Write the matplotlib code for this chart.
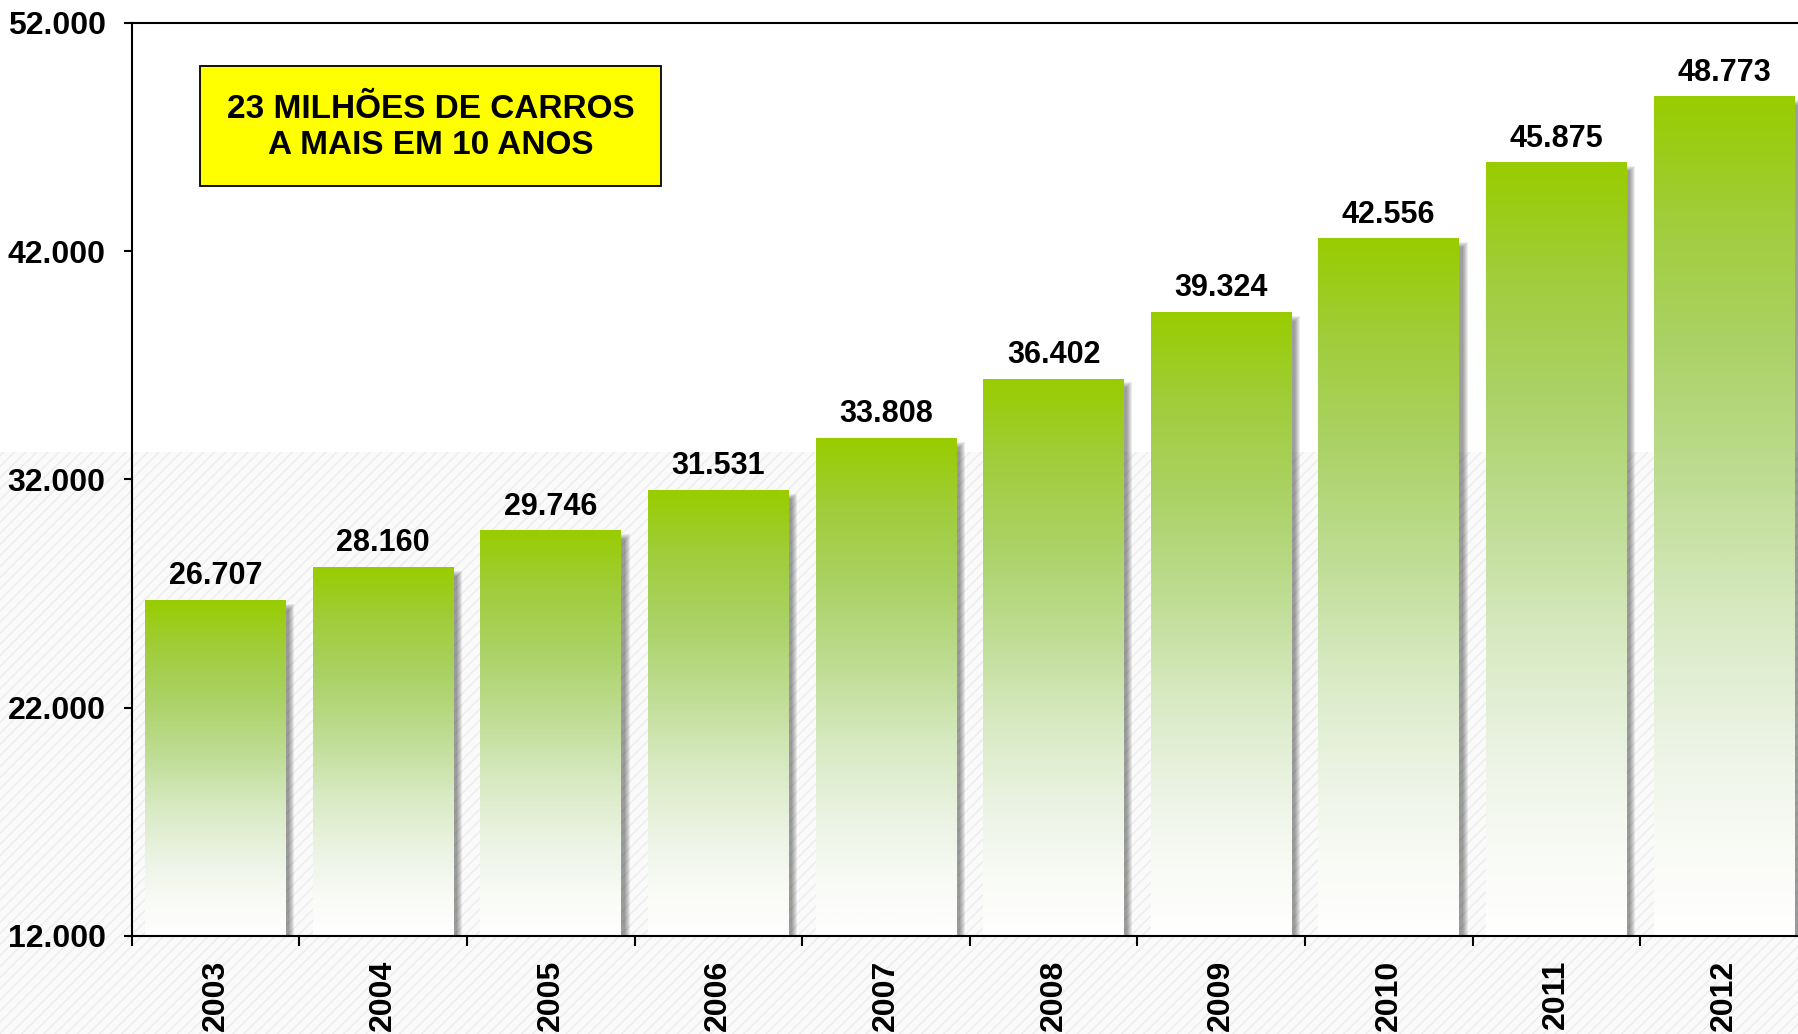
import numpy as np
import matplotlib
matplotlib.use("Agg")
import matplotlib.pyplot as plt
from matplotlib.patches import Rectangle
from matplotlib.colors import LinearSegmentedColormap
from matplotlib.ticker import FuncFormatter

plt.rcParams['font.family'] = ['Liberation Sans', 'DejaVu Sans']
plt.rcParams['font.weight'] = 'bold'
plt.rcParams['hatch.linewidth'] = 1.0

# frota de automoveis (mil unidades)
anos = ['2003', '2004', '2005', '2006', '2007', '2008', '2009', '2010', '2011', '2012']
frota = [26707, 28160, 29746, 31531, 33808, 36402, 39324, 42556, 45875, 48773]
y_ticks = [12000, 22000, 32000, 42000, 52000]
destaque = '23 MILHÕES DE CARROS\nA MAIS EM 10 ANOS'

fig = plt.figure(figsize=(17.98, 10.34), dpi=100, facecolor='white')

# faixa listrada clara no fundo, metade de baixo
faixa = Rectangle((0, 0), 1, 0.563, transform=fig.transFigure, facecolor='#fafafa',
                  edgecolor='#ececec', hatch='///', linewidth=0, zorder=-1)
fig.patches.append(faixa)

ax = fig.add_axes([0.0733, 0.0948, 0.9321, 0.883])
ax.set_facecolor('none')

verde = LinearSegmentedColormap.from_list('verde', [
    (0.00, '#ffffff'), (0.10, '#f9fbf6'), (0.22, '#edf4e6'), (0.38, '#d8eac3'),
    (0.52, '#c2de9a'), (0.70, '#abd267'), (0.86, '#a0cd3a'), (1.00, '#99cc00')])

x = np.arange(len(anos))
ymin, ymax = y_ticks[0], y_ticks[-1]
ax.set_xlim(-0.5, len(anos) - 0.5)
ax.set_ylim(ymin, ymax)

bars = ax.bar(x, frota, width=0.84, color='none', edgecolor='none', zorder=3)

# tamanho de um pixel em unidades de dados (para sombra)
px_x = (len(anos)) / (0.9321 * 1798)
px_y = (ymax - ymin) / (0.883 * 1034)

grad = np.linspace(0, 1, 256).reshape(-1, 1)
for b, v in zip(bars, frota):
    x0, w = b.get_x(), b.get_width()
    # sombra suave a direita
    for k in range(6):
        grow = k - 2.5
        ax.add_patch(Rectangle((x0 + 6 * px_x, ymin),
                               w + grow * px_x,
                               v - ymin - 6 * px_y + grow * px_y,
                               facecolor='black', alpha=0.075, linewidth=0, zorder=1))
    ax.imshow(grad, extent=[x0, x0 + w, ymin, v], origin='lower', aspect='auto',
              cmap=verde, interpolation='bicubic', zorder=2)
    ax.annotate(f'{v:,}'.replace(',', '.'), xy=(b.get_x() + w / 2, v),
                xytext=(0, 11.5), textcoords='offset points', ha='center',
                va='baseline', fontsize=22, fontweight='bold', color='black')

ax.set_xlim(-0.5, len(anos) - 0.5)
ax.set_ylim(ymin, ymax)

ax.set_yticks(y_ticks)
ax.yaxis.set_major_formatter(FuncFormatter(lambda v, p: f'{v:,.0f}'.replace(',', '.')))
ax.tick_params(axis='y', length=5.8, width=1.5, pad=13, labelsize=23, colors='black')

ax.set_xticks(x, labels=anos, rotation=90)
ax.set_xticks(np.arange(-0.5, len(anos), 1), minor=True)
ax.tick_params(axis='x', which='major', length=0, pad=17, labelsize=23)
ax.tick_params(axis='x', which='minor', length=7, width=1.5, direction='out')
for lbl in ax.get_xticklabels() + ax.get_yticklabels():
    lbl.set_fontweight('bold')

for s in ['left', 'top', 'bottom']:
    ax.spines[s].set_linewidth(1.5)
    ax.spines[s].set_zorder(5)
ax.spines['right'].set_visible(False)

# caixa amarela de destaque
caixa = Rectangle((0.1112, 0.8204), 0.2563, 0.1161, transform=fig.transFigure,
                  facecolor='#ffff00', edgecolor='black', linewidth=1.3, zorder=5)
fig.patches.append(caixa)
fig.text(0.2394, 0.8770, destaque, ha='center', va='center', fontsize=24,
         fontweight='bold', linespacing=1.22, multialignment='center', zorder=6)

fig.savefig('out.png', dpi=100, facecolor='white')
